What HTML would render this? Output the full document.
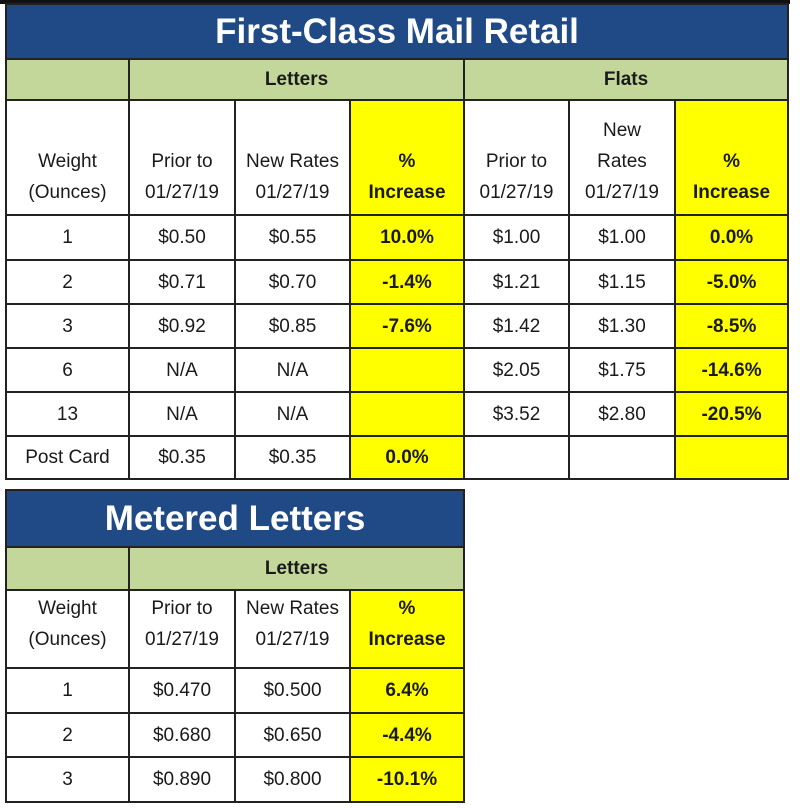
<!DOCTYPE html>
<html><head><meta charset="utf-8"><style>
body{margin:0;width:800px;height:808px;background:#fff;position:relative;overflow:hidden;font-family:"Liberation Sans",Arial,sans-serif;}
table{position:absolute;border-collapse:collapse;table-layout:fixed;color:#1a1a1a;}
td{border:2px solid #222;text-align:center;vertical-align:middle;padding:0;font-size:19px;line-height:31px;overflow:hidden;white-space:nowrap;}
.t{background:#1f4a85;color:#fff;font-weight:bold;font-size:35px;}
.g{background:#c4d79b;font-weight:bold;font-size:19px;}
.y{background:#ffff00;font-weight:bold;}
.topbar{position:absolute;left:0;top:0;width:790px;height:4px;background:#111;}
</style></head><body>
<div class="topbar"></div>
<table style="left:5px;top:3px;width:782px;">
<colgroup><col style="width:123px"><col style="width:106px"><col style="width:115px"><col style="width:114px"><col style="width:105px"><col style="width:106px"><col style="width:113px"></colgroup>
<tr style="height:55px"><td class="t" colspan="7">First-Class Mail Retail</td></tr>
<tr style="height:41px"><td class="g"></td><td class="g" colspan="3">Letters</td><td class="g" colspan="3">Flats</td></tr>
<tr style="height:115px"><td style="vertical-align:bottom;padding-bottom:6px">Weight<br>(Ounces)</td><td style="vertical-align:bottom;padding-bottom:6px">Prior to<br>01/27/19</td><td style="vertical-align:bottom;padding-bottom:6px">New Rates<br>01/27/19</td><td class="y" style="vertical-align:bottom;padding-bottom:6px">%<br>Increase</td><td style="vertical-align:bottom;padding-bottom:6px">Prior to<br>01/27/19</td><td style="vertical-align:bottom;padding-bottom:6px">New<br>Rates<br>01/27/19</td><td class="y" style="vertical-align:bottom;padding-bottom:6px">%<br>Increase</td></tr>
<tr style="height:45px"><td>1</td><td>$0.50</td><td>$0.55</td><td class="y">10.0%</td><td>$1.00</td><td>$1.00</td><td class="y">0.0%</td></tr>
<tr style="height:44px"><td>2</td><td>$0.71</td><td>$0.70</td><td class="y">-1.4%</td><td>$1.21</td><td>$1.15</td><td class="y">-5.0%</td></tr>
<tr style="height:44px"><td>3</td><td>$0.92</td><td>$0.85</td><td class="y">-7.6%</td><td>$1.42</td><td>$1.30</td><td class="y">-8.5%</td></tr>
<tr style="height:44px"><td>6</td><td>N/A</td><td>N/A</td><td class="y"></td><td>$2.05</td><td>$1.75</td><td class="y">-14.6%</td></tr>
<tr style="height:44px"><td>13</td><td>N/A</td><td>N/A</td><td class="y"></td><td>$3.52</td><td>$2.80</td><td class="y">-20.5%</td></tr>
<tr style="height:43px"><td>Post Card</td><td>$0.35</td><td>$0.35</td><td class="y">0.0%</td><td></td><td></td><td class="y"></td></tr>
</table>
<table style="left:5px;top:489px;width:458px;">
<colgroup><col style="width:123px"><col style="width:106px"><col style="width:115px"><col style="width:114px"></colgroup>
<tr style="height:57px"><td class="t" colspan="4">Metered Letters</td></tr>
<tr style="height:43px"><td class="g"></td><td class="g" colspan="3">Letters</td></tr>
<tr style="height:78px"><td style="vertical-align:top;padding-top:2px">Weight<br>(Ounces)</td><td style="vertical-align:top;padding-top:2px">Prior to<br>01/27/19</td><td style="vertical-align:top;padding-top:2px">New Rates<br>01/27/19</td><td class="y" style="vertical-align:top;padding-top:2px">%<br>Increase</td></tr>
<tr style="height:45px"><td>1</td><td>$0.470</td><td>$0.500</td><td class="y">6.4%</td></tr>
<tr style="height:44px"><td>2</td><td>$0.680</td><td>$0.650</td><td class="y">-4.4%</td></tr>
<tr style="height:45px"><td>3</td><td>$0.890</td><td>$0.800</td><td class="y">-10.1%</td></tr>
</table>
</body></html>
